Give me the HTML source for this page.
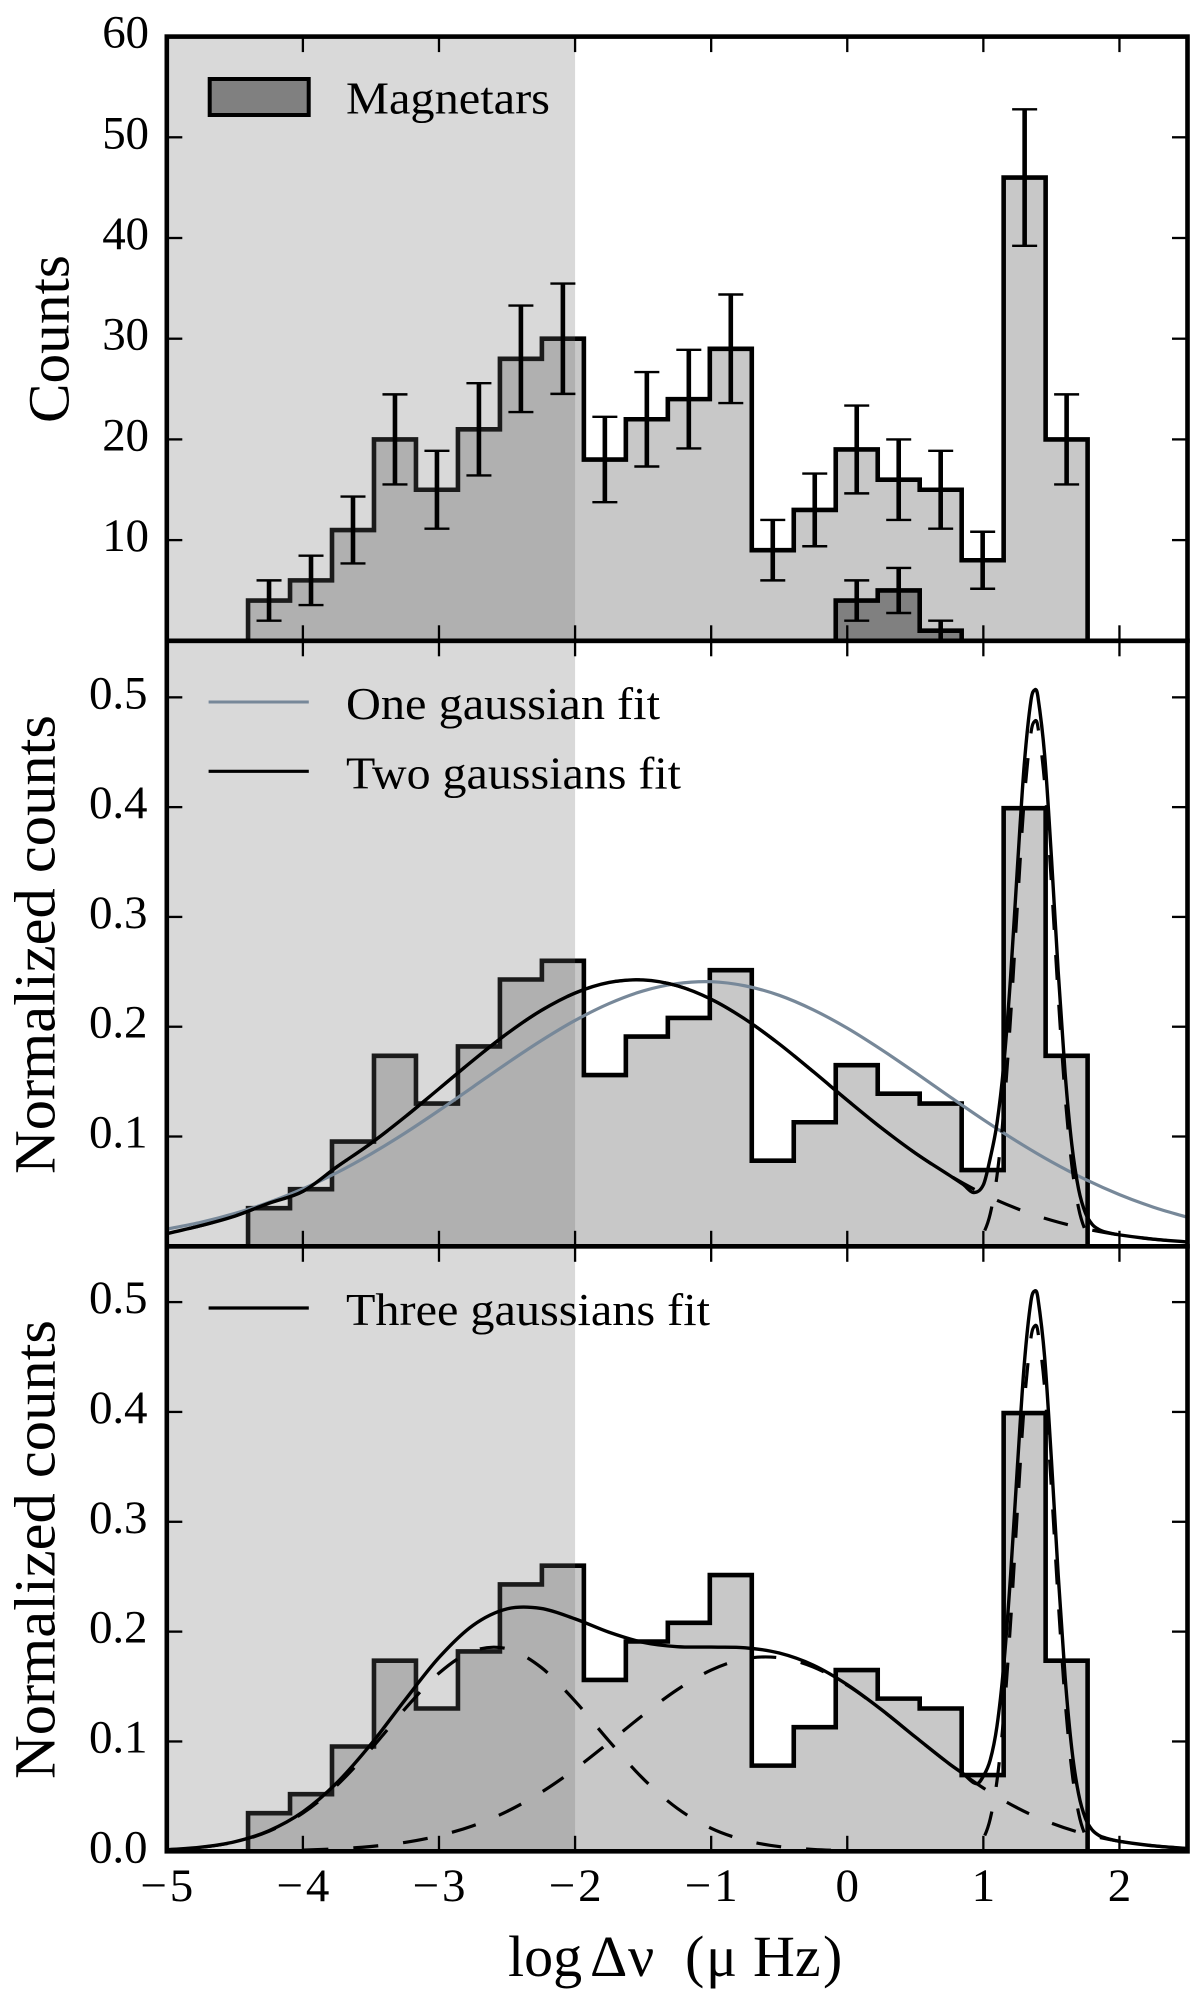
<!DOCTYPE html>
<html lang="en">
<head>
<meta charset="utf-8">
<title>Histogram of log delta nu with gaussian fits</title>
<style>
html,body{margin:0;padding:0;background:#fff;}
svg{display:block;}
text{font-family:"Liberation Serif",serif;fill:#000;}
.leg{font-size:46px;}
.ttl{font-size:58px;}
</style>
</head>
<body>
<svg id="chart" width="1200" height="2002" viewBox="0 0 1200 2002" xmlns="http://www.w3.org/2000/svg">
  <rect x="0" y="0" width="1200" height="2002" fill="#fff"/>
  <g id="panel1"></g>
  <g id="panel2"></g>
  <g id="panel3"></g>

  <text class="ttl" transform="translate(68.5,339) rotate(-90)" text-anchor="middle" textLength="168" lengthAdjust="spacingAndGlyphs">Counts</text>
  <text class="ttl" transform="translate(54.5,944.5) rotate(-90)" text-anchor="middle" textLength="459" lengthAdjust="spacingAndGlyphs">Normalized counts</text>
  <text class="ttl" transform="translate(54.5,1549.5) rotate(-90)" text-anchor="middle" textLength="459" lengthAdjust="spacingAndGlyphs">Normalized counts</text>
  <text class="ttl" y="1976"><tspan x="508">log</tspan><tspan x="590">Δ</tspan><tspan x="628">ν</tspan><tspan x="685">(</tspan><tspan x="706">μ</tspan><tspan x="753">Hz</tspan><tspan x="823">)</tspan></text>

  <g>
    <rect x="209.7" y="79" width="99" height="36" fill="#808080" stroke="#000" stroke-width="4"/>
    <text class="leg" x="346" y="113.5" textLength="204" lengthAdjust="spacingAndGlyphs">Magnetars</text>
  </g>
  <g>
    <line x1="208.6" x2="308.8" y1="702" y2="702" stroke="#778899" stroke-width="3"/>
    <text class="leg" x="346" y="719" textLength="314" lengthAdjust="spacingAndGlyphs">One gaussian fit</text>
    <line x1="208.6" x2="308.8" y1="771.3" y2="771.3" stroke="#000" stroke-width="3.2"/>
    <text class="leg" x="346" y="788.3" textLength="335" lengthAdjust="spacingAndGlyphs">Two gaussians fit</text>
  </g>
  <g>
    <line x1="208.6" x2="308.8" y1="1308" y2="1308" stroke="#000" stroke-width="3.2"/>
    <text class="leg" x="346" y="1325" textLength="364" lengthAdjust="spacingAndGlyphs">Three gaussians fit</text>
  </g>
</svg>

<script>
// ---- histogram data ----
var binStart = -4.403;
var binWidth = 0.30845;
var counts = [4, 6, 11, 20, 15, 21, 28, 30, 18, 22, 24, 29, 9, 13, 19, 16, 15, 8, 46, 20];
var countErrors = [2, 2.45, 3.32, 4.47, 3.87, 4.58, 5.29, 5.48, 4.24, 4.69, 4.9, 5.39, 3, 3.61, 4.36, 4, 3.87, 2.83, 6.78, 4.47];
var magnetarFirstBin = 14;
var magnetarCounts = [4, 5, 1];
var magnetarErrors = [2, 2.24, 1];
var normalized = [0.0347, 0.052, 0.0954, 0.1735, 0.13, 0.182, 0.243, 0.26, 0.156, 0.191, 0.208, 0.2515, 0.078, 0.113, 0.165, 0.139, 0.13, 0.0694, 0.399, 0.1735];

// ---- tick labels ----
var xTicks = [-5, -4, -3, -2, -1, 0, 1, 2];
var xTickLabels = ["\u22125", "\u22124", "\u22123", "\u22122", "\u22121", "0", "1", "2"];
var countTicks = [10, 20, 30, 40, 50, 60];
var countTickLabels = ["10", "20", "30", "40", "50", "60"];
var normTicks = [0.1, 0.2, 0.3, 0.4, 0.5];
var normTickLabels = ["0.1", "0.2", "0.3", "0.4", "0.5"];
var normTicksBottom = [0, 0.1, 0.2, 0.3, 0.4, 0.5];
var normTickLabelsBottom = ["0.0", "0.1", "0.2", "0.3", "0.4", "0.5"];
var spanMin = -5;
var spanMax = -2;

// ---- fitted curves ----
var gridX = [-5, -4.75, -4.5, -4.25, -4, -3.75, -3.5, -3.25, -3, -2.75, -2.5, -2.25, -2, -1.75, -1.5, -1.25, -1, -0.75, -0.5, -0.25, 0, 0.25, 0.5, 0.75, 1, 1.25, 1.5, 1.75, 2, 2.25, 2.5];
var oneFitY = [0.0156, 0.0218, 0.0299, 0.04, 0.0523, 0.0671, 0.0841, 0.1031, 0.1237, 0.1452, 0.1667, 0.1872, 0.2057, 0.2211, 0.2326, 0.2393, 0.241, 0.2372, 0.2286, 0.2154, 0.1987, 0.1792, 0.1582, 0.1365, 0.1153, 0.0953, 0.077, 0.0609, 0.0471, 0.0356, 0.0264];
var twoLeftY = [0.0115, 0.0188, 0.0275, 0.0392, 0.05, 0.0724, 0.0938, 0.1178, 0.1435, 0.1693, 0.1937, 0.2147, 0.2307, 0.2403, 0.2426, 0.2373, 0.225, 0.2068, 0.1843, 0.1591, 0.1331, 0.1079, 0.0849, 0.0647, 0.0477, 0.0342, 0.0237, 0.016, 0.0104, 0.0065, 0.004];
var twoFitX = [-5, -4.75, -4.5, -4.25, -4, -3.75, -3.5, -3.25, -3, -2.75, -2.5, -2.25, -2, -1.75, -1.5, -1.25, -1, -0.75, -0.5, -0.25, 0, 0.25, 0.5, 0.75, 0.85, 0.93, 1, 1.05, 1.1, 1.15, 1.2, 1.25, 1.3, 1.35, 1.38, 1.4, 1.45, 1.5, 1.55, 1.6, 1.65, 1.7, 1.75, 1.8, 1.85, 1.9, 2, 2.25, 2.5];
var twoFitY = [0.0115, 0.0188, 0.0275, 0.0392, 0.05, 0.0724, 0.0938, 0.1178, 0.1435, 0.1693, 0.1937, 0.2147, 0.2307, 0.2403, 0.2426, 0.2373, 0.225, 0.2068, 0.1843, 0.1591, 0.1331, 0.1079, 0.0849, 0.0647, 0.0565, 0.049, 0.056, 0.08, 0.112, 0.1655, 0.2452, 0.3445, 0.4381, 0.4974, 0.507, 0.5012, 0.4478, 0.3546, 0.2501, 0.1587, 0.0926, 0.0519, 0.0303, 0.0199, 0.0152, 0.0129, 0.0104, 0.0065, 0.004];
var narrowX = [0.9, 0.95, 1, 1.05, 1.1, 1.15, 1.2, 1.25, 1.3, 1.35, 1.38, 1.4, 1.45, 1.5, 1.55, 1.6, 1.65, 1.7, 1.75, 1.8, 1.85];
var narrowY = [0.0013, 0.0042, 0.0118, 0.0293, 0.0641, 0.1233, 0.2085, 0.3103, 0.4062, 0.4677, 0.4786, 0.4737, 0.4222, 0.3309, 0.2281, 0.1384, 0.0738, 0.0346, 0.0143, 0.0052, 0.0017];
var threeFitX = [-5, -4.75, -4.5, -4.25, -4, -3.75, -3.5, -3.25, -3, -2.75, -2.5, -2.25, -2, -1.75, -1.5, -1.25, -1, -0.75, -0.5, -0.25, 0, 0.25, 0.5, 0.75, 0.85, 0.95, 1, 1.05, 1.1, 1.15, 1.2, 1.25, 1.3, 1.35, 1.38, 1.4, 1.45, 1.5, 1.55, 1.6, 1.65, 1.7, 1.75, 1.8, 1.85, 1.9, 2, 2.25, 2.5];
var threeFitY = [0.0014, 0.0037, 0.0087, 0.0187, 0.0359, 0.0624, 0.0975, 0.1377, 0.1764, 0.2057, 0.2207, 0.2211, 0.2116, 0.1994, 0.1902, 0.1863, 0.1859, 0.1853, 0.1805, 0.1695, 0.1517, 0.1291, 0.1041, 0.0796, 0.0708, 0.0615, 0.0684, 0.0829, 0.1139, 0.1695, 0.2512, 0.3498, 0.4425, 0.5011, 0.5103, 0.5043, 0.4503, 0.3565, 0.2514, 0.1596, 0.093, 0.052, 0.03, 0.0194, 0.0144, 0.012, 0.0091, 0.005, 0.0026];
var comp1Y = [0.0014, 0.0036, 0.0085, 0.0182, 0.0348, 0.0601, 0.0931, 0.1296, 0.1622, 0.1824, 0.1844, 0.1675, 0.1367, 0.1003, 0.0661, 0.0392, 0.0209, 0.01, 0.0043, 0.0017, 0.0006, 0.0002, 0, 0, 0, 0, 0, 0, 0, 0, 0];
var comp2Y = [0, 0.0001, 0.0002, 0.0005, 0.0011, 0.0023, 0.0044, 0.0081, 0.0142, 0.0233, 0.0363, 0.0536, 0.0749, 0.0991, 0.1241, 0.1471, 0.165, 0.1753, 0.1762, 0.1678, 0.1511, 0.1289, 0.1041, 0.0796, 0.0576, 0.0395, 0.0256, 0.0157, 0.0091, 0.005, 0.0026];

// ---- drawing ----
var SVGNS = "http://www.w3.org/2000/svg";
var plotLeft = 166.8;
var plotRight = 1187.5;
function xScale(v) { return plotLeft + (v + 5) * ((plotRight - plotLeft) / 7.5); }
function linearY(top, bottom, max) {
  return function (v) { return bottom - (v / max) * (bottom - top); };
}

function add(parent, tag, name, attrs) {
  var el = document.createElementNS(SVGNS, tag);
  
  
  for (var k in attrs) { el.setAttribute(k, attrs[k]); }
  parent.appendChild(el);
  return el;
}

function histPath(values, firstBin, y) {
  var base = y(0);
  var d = "M" + xScale(binStart + firstBin * binWidth).toFixed(2) + "," + base.toFixed(2);
  values.forEach(function (v, i) {
    var x0 = xScale(binStart + (firstBin + i) * binWidth);
    var x1 = xScale(binStart + (firstBin + i + 1) * binWidth);
    d += "L" + x0.toFixed(2) + "," + y(v).toFixed(2) + "L" + x1.toFixed(2) + "," + y(v).toFixed(2);
  });
  d += "L" + xScale(binStart + (firstBin + values.length) * binWidth).toFixed(2) + "," + base.toFixed(2) + "Z";
  return d;
}

function smoothPath(xs, ys, y) {
  var px = xs.map(xScale);
  var py = ys.map(y);
  var d = "M" + px[0].toFixed(2) + "," + py[0].toFixed(2);
  for (var i = 0; i < px.length - 1; i++) {
    var i0 = Math.max(i - 1, 0);
    var i3 = Math.min(i + 2, px.length - 1);
    var h = px[i + 1] - px[i];
    var m1 = (py[i + 1] - py[i0]) / (px[i + 1] - px[i0]);
    var m2 = (py[i3] - py[i]) / (px[i3] - px[i]);
    d += "C" + (px[i] + h / 3).toFixed(2) + "," + (py[i] + m1 * h / 3).toFixed(2) + " " +
      (px[i + 1] - h / 3).toFixed(2) + "," + (py[i + 1] - m2 * h / 3).toFixed(2) + " " +
      px[i + 1].toFixed(2) + "," + py[i + 1].toFixed(2);
  }
  return d;
}

function drawSpan(g, top, bottom) {
  add(g, "rect", "shaded-region", {
    x: xScale(spanMin), y: top, width: xScale(spanMax) - xScale(spanMin), height: bottom - top,
    fill: "rgb(106,106,106)", "fill-opacity": 0.255
  });
}

function drawHist(g, name, values, firstBin, y, fill) {
  add(g, "path", name, {
    d: histPath(values, firstBin, y), fill: fill, stroke: "#000", "stroke-width": 4.6, "stroke-linejoin": "miter"
  });
}

function drawErrors(g, name, values, errors, firstBin, y, base) {
  values.forEach(function (v, i) {
    var cx = xScale(binStart + (firstBin + i + 0.5) * binWidth);
    var hi = y(v + errors[i]);
    var lo = Math.min(y(v - errors[i]), base);
    add(g, "line", name + "-bar", { x1: cx, x2: cx, y1: hi, y2: lo, stroke: "#000", "stroke-width": 4.6 });
    add(g, "line", name + "-cap-top", { x1: cx - 12.5, x2: cx + 12.5, y1: hi, y2: hi, stroke: "#000", "stroke-width": 2.4 });
    add(g, "line", name + "-cap-bottom", { x1: cx - 12.5, x2: cx + 12.5, y1: lo, y2: lo, stroke: "#000", "stroke-width": 2.4 });
  });
}

function drawCurve(g, name, xs, ys, y, color, width, dashStartX) {
  var attrs = { d: smoothPath(xs, ys, y), fill: "none", stroke: color, "stroke-width": width };
  var path = add(g, "path", name, attrs);
  if (dashStartX !== undefined) {
    // start a dash where the reference figure starts one, so the gaps line up
    var target = xScale(dashStartX), lo = 0, hi = path.getTotalLength();
    for (var n = 0; n < 30; n++) {
      var mid = (lo + hi) / 2;
      if (path.getPointAtLength(mid).x < target) { lo = mid; } else { hi = mid; }
    }
    path.setAttribute("stroke-dasharray", "25 25");
    path.setAttribute("stroke-dashoffset", (50 - (lo % 50)).toFixed(2));
  }
}

function drawAxes(g, top, bottom, y, yTicks, yLabels, showXLabels, labelRight, labelWidth) {
  var xt = add(g, "g", "x-axis", {});
  xTicks.forEach(function (v, i) {
    var px = xScale(v);
    if (i > 0) {
      add(xt, "line", "x-tick-bottom", { x1: px, x2: px, y1: bottom, y2: bottom - 15.5, stroke: "#000", "stroke-width": 2.3 });
      add(xt, "line", "x-tick-top", { x1: px, x2: px, y1: top, y2: top + 15.5, stroke: "#000", "stroke-width": 2.3 });
    }
    if (showXLabels) {
      var attrs = { x: px, y: 1901, "text-anchor": "middle", "font-size": 47 };
      if (v < 0) { attrs.textLength = 53; }
      var t = add(xt, "text", "x-tick-label", attrs);
      t.textContent = xTickLabels[i];
    }
  });
  var yt = add(g, "g", "y-axis", {});
  yTicks.forEach(function (v, i) {
    var py = y(v);
    if (py > top + 1 && py < bottom - 1) {
      add(yt, "line", "y-tick-left", { x1: plotLeft, x2: plotLeft + 15.5, y1: py, y2: py, stroke: "#000", "stroke-width": 2.3 });
      add(yt, "line", "y-tick-right", { x1: plotRight, x2: plotRight - 15.5, y1: py, y2: py, stroke: "#000", "stroke-width": 2.3 });
    }
    var lab = add(yt, "text", "y-tick-label", { x: labelRight, y: py + 11, "text-anchor": "end", "font-size": 47, textLength: labelWidth });
    lab.textContent = yLabels[i];
  });
  add(g, "rect", "axes-frame", {
    x: plotLeft, y: top, width: plotRight - plotLeft, height: bottom - top,
    fill: "none", stroke: "#000", "stroke-width": 4.6
  });
}

function clipFor(svg, id, top, bottom) {
  var cp = add(svg, "clipPath", "plot-clip", { id: id });
  add(cp, "rect", "plot-clip-rect", { x: plotLeft, y: top, width: plotRight - plotLeft, height: bottom - top });
}

var svg = document.getElementById("chart");

// Panel 1: counts
(function () {
  var top = 36.6, bottom = 640.8;
  var y = linearY(top, bottom, 60);
  var g = document.getElementById("panel1");
  clipFor(svg, "clip1", top, bottom);
  var body = add(g, "g", "counts-plot-area", { "clip-path": "url(#clip1)" });
  drawHist(body, "all-frb-histogram", counts, 0, y, "#c8c8c8");
  drawHist(body, "magnetars-histogram", magnetarCounts, magnetarFirstBin, y, "#808080");
  drawSpan(body, top, bottom);
  drawErrors(body, "count-error", counts, countErrors, 0, y, bottom);
  drawErrors(body, "magnetar-error", magnetarCounts, magnetarErrors, magnetarFirstBin, y, bottom);
  drawAxes(g, top, bottom, y, countTicks, countTickLabels, false, 149, 46.7);
})();

// Panel 2: one and two gaussians
(function () {
  var top = 640.8, bottom = 1246.3;
  var y = linearY(top, bottom, 0.5515);
  var g = document.getElementById("panel2");
  clipFor(svg, "clip2", top, bottom);
  var body = add(g, "g", "two-fit-plot-area", { "clip-path": "url(#clip2)" });
  drawHist(body, "normalized-histogram", normalized, 0, y, "#c8c8c8");
  drawSpan(body, top, bottom);
  drawCurve(body, "one-gaussian-curve", gridX, oneFitY, y, "#778899", 3.2);
  drawCurve(body, "two-gaussians-curve", twoFitX, twoFitY, y, "#000", 3.4);
  drawCurve(body, "two-gaussians-wide-component", gridX, twoLeftY, y, "#000", 3.2, 1.1);
  drawCurve(body, "two-gaussians-narrow-component", narrowX, narrowY, y, "#000", 3.2, 1.01);
  drawAxes(g, top, bottom, y, normTicks, normTickLabels, false, 147.5, 58.5);
})();

// Panel 3: three gaussians
(function () {
  var top = 1246.3, bottom = 1851.3;
  var y = linearY(top, bottom, 0.5508);
  var g = document.getElementById("panel3");
  clipFor(svg, "clip3", top, bottom);
  var body = add(g, "g", "three-fit-plot-area", { "clip-path": "url(#clip3)" });
  drawHist(body, "normalized-histogram", normalized, 0, y, "#c8c8c8");
  drawSpan(body, top, bottom);
  drawCurve(body, "three-gaussians-curve", threeFitX, threeFitY, y, "#000", 3.4);
  drawCurve(body, "first-component", gridX, comp1Y, y, "#000", 3.2, -1.59);
  drawCurve(body, "second-component", gridX, comp2Y, y, "#000", 3.2, -1.65);
  drawCurve(body, "narrow-component", narrowX, narrowY, y, "#000", 3.2, 1.01);
  drawAxes(g, top, bottom, y, normTicksBottom, normTickLabelsBottom, true, 147.5, 58.5);
})();
</script>
</body>
</html>
